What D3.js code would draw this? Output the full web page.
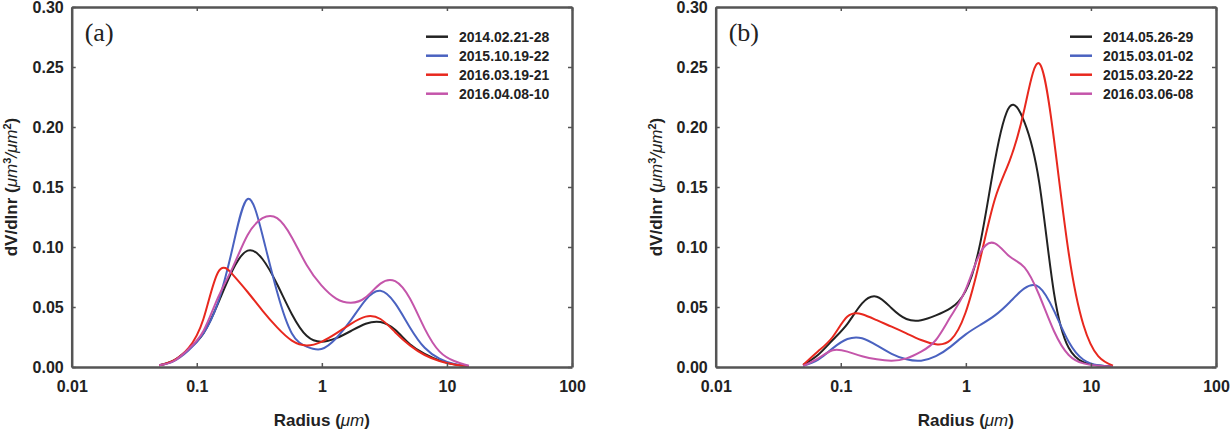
<!DOCTYPE html>
<html>
<head>
<meta charset="utf-8">
<script src="https://cdn.jsdelivr.net/npm/d3@7"></script>
<style>
  body { margin: 0; background: #fff; }
  svg { display: block; }
</style>
</head>
<body>
<script>
// AERONET size bins (radius, um)
const radius = [0.05, 0.0656, 0.0861, 0.113, 0.148, 0.194, 0.255, 0.335, 0.439, 0.576, 0.756,
  0.992, 1.302, 1.708, 2.241, 2.940, 3.857, 5.061, 6.641, 8.713, 11.432, 15.0];

const xTicks = [0.01, 0.1, 1, 10, 100];
const yTicks = [0, 0.05, 0.10, 0.15, 0.20, 0.25, 0.30];

// panel (a)
const datesA = ["2014.02.21-28", "2015.10.19-22", "2016.03.19-21", "2016.04.08-10"];
const a_2014_02 = [0.0014, 0.0055, 0.015, 0.028, 0.053, 0.081, 0.097, 0.090, 0.069, 0.044, 0.026,
  0.021, 0.024, 0.030, 0.036, 0.0375, 0.031, 0.019, 0.011, 0.0055, 0.0022, 0.0007];
const a_2015_10 = [0.0014, 0.005, 0.014, 0.028, 0.054, 0.100, 0.140, 0.110, 0.0625, 0.028, 0.017,
  0.015, 0.024, 0.039, 0.056, 0.0635, 0.053, 0.033, 0.016, 0.007, 0.0025, 0.0008];
const a_2016_03 = [0.0014, 0.0056, 0.016, 0.040, 0.079, 0.077, 0.0625, 0.047, 0.033, 0.022, 0.018,
  0.021, 0.028, 0.036, 0.042, 0.040, 0.029, 0.018, 0.010, 0.005, 0.002, 0.0005];
const a_2016_04 = [0.0014, 0.005, 0.015, 0.030, 0.058, 0.083, 0.110, 0.124, 0.124, 0.108, 0.085,
  0.068, 0.057, 0.0535, 0.058, 0.0695, 0.0715, 0.057, 0.032, 0.013, 0.005, 0.001];

// panel (b)
const datesB = ["2014.05.26-29", "2015.03.01-02", "2015.03.20-22", "2016.03.06-08"];
const b_2014_05 = [0.0017, 0.010, 0.0225, 0.036, 0.053, 0.0586, 0.049, 0.040, 0.039, 0.043, 0.049,
  0.063, 0.103, 0.172, 0.217, 0.204, 0.154, 0.062, 0.016, 0.004, 0.0012, 0.0004];
const b_2015_03a = [0.001, 0.006, 0.0155, 0.0233, 0.024, 0.018, 0.011, 0.0064, 0.0053, 0.009, 0.017,
  0.027, 0.035, 0.043, 0.054, 0.0655, 0.0665, 0.047, 0.021, 0.006, 0.0015, 0.0003];
const b_2015_03b = [0.0017, 0.013, 0.025, 0.042, 0.044, 0.039, 0.0336, 0.028, 0.0225, 0.019, 0.0225,
  0.045, 0.090, 0.140, 0.172, 0.215, 0.253, 0.190, 0.095, 0.035, 0.009, 0.001];
const b_2016_03 = [0.001, 0.007, 0.014, 0.0128, 0.009, 0.0064, 0.0053, 0.0072, 0.0128, 0.0225, 0.042,
  0.064, 0.095, 0.103, 0.092, 0.083, 0.060, 0.030, 0.010, 0.003, 0.001, 0.0003];

const colors = ["#222222", "#4a62c0", "#e8281e", "#c455aa"];
const sans = "'Liberation Sans', Arial, sans-serif";

const W = 1231, H = 433;
const svg = d3.select("body").append("svg").attr("width", W).attr("height", H)
  .style("font-family", sans);

const panels = [
  { tag: "(a)", left: 71.7, right: 572, labelX: 17, dates: datesA, series: [a_2014_02, a_2015_10, a_2016_03, a_2016_04] },
  { tag: "(b)", left: 715.7, right: 1216, labelX: 662, dates: datesB, series: [b_2014_05, b_2015_03a, b_2015_03b, b_2016_03] }
];
const plotTop = 7, plotBottom = 367;

panels.forEach(p => {
  const x = d3.scaleLog().domain([0.01, 100]).range([p.left, p.right]);
  const y = d3.scaleLinear().domain([0, 0.3]).range([plotBottom, plotTop]);
  const g = svg.append("g");

  const line = d3.line()
    .x((d, i) => x(radius[i]))
    .y(d => y(d))
    .curve(d3.curveNatural);

  g.selectAll("path.curve").data(p.series).enter().append("path")
    .attr("class", "curve")
    .attr("d", line)
    .attr("fill", "none")
    .attr("stroke", (d, i) => colors[i])
    .attr("stroke-width", 2);

  const styleAxis = sel => {
    sel.attr("font-family", sans);
    sel.select(".domain").attr("stroke", "#555").attr("stroke-width", 2.5);
    sel.selectAll(".tick line").attr("stroke", "#555").attr("stroke-width", 1.5);
    sel.selectAll(".tick text").attr("fill", "#222").attr("font-size", 16).attr("font-weight", "bold");
  };

  g.append("g").attr("transform", `translate(0,${plotBottom})`)
    .call(d3.axisBottom(x).tickValues(xTicks).tickFormat(d => String(d)).tickSizeInner(-4).tickSizeOuter(0).tickPadding(14))
    .call(styleAxis);
  g.append("g").attr("transform", `translate(0,${plotTop})`)
    .call(d3.axisTop(x).tickValues(xTicks).tickFormat("").tickSizeInner(-4).tickSizeOuter(0))
    .call(styleAxis);
  g.append("g").attr("transform", `translate(${p.left},0)`)
    .call(d3.axisLeft(y).tickValues(yTicks).tickFormat(d3.format(".2f")).tickSizeInner(-4).tickSizeOuter(0).tickPadding(8))
    .call(styleAxis);
  g.append("g").attr("transform", `translate(${p.right},0)`)
    .call(d3.axisRight(y).tickValues(yTicks).tickFormat("").tickSizeInner(-4).tickSizeOuter(0))
    .call(styleAxis);

  // x label
  const xl = g.append("text")
    .attr("x", (p.left + p.right) / 2).attr("y", 426)
    .attr("text-anchor", "middle").attr("font-size", 17).attr("font-weight", "bold").attr("fill", "#222");
  xl.append("tspan").text("Radius (");
  xl.append("tspan").attr("font-style", "italic").attr("font-weight", "normal").text("μm");
  xl.append("tspan").text(")");

  // y label
  const yl = g.append("text")
    .attr("transform", `translate(${p.labelX},${(plotTop + plotBottom) / 2}) rotate(-90)`)
    .attr("text-anchor", "middle").attr("font-size", 17).attr("font-weight", "bold").attr("fill", "#222");
  yl.append("tspan").text("dV/dlnr (");
  yl.append("tspan").attr("font-style", "italic").attr("font-weight", "normal").text("μm");
  yl.append("tspan").attr("font-size", 11).attr("dy", -6).text("3");
  yl.append("tspan").attr("dy", 6).attr("font-style", "italic").attr("font-weight", "normal").text("/μm");
  yl.append("tspan").attr("font-size", 11).attr("dy", -6).text("2");
  yl.append("tspan").attr("dy", 6).text(")");

  // panel tag
  g.append("text").attr("x", p.left + 13).attr("y", 41)
    .style("font-family", "'Liberation Serif', 'Times New Roman', serif")
    .attr("font-size", 26).attr("fill", "#222").text(p.tag);

  // legend
  const lg = g.append("g").attr("transform", `translate(${p.right - 146},0)`);
  p.dates.forEach((d, i) => {
    const yy = 36.7 + i * 19;
    lg.append("line").attr("x1", 0).attr("x2", 22).attr("y1", yy).attr("y2", yy)
      .attr("stroke", colors[i]).attr("stroke-width", 2.5);
    lg.append("text").attr("x", 33).attr("y", yy).attr("dy", "0.36em")
      .attr("font-size", 14).attr("font-weight", "bold").attr("fill", "#222").text(d);
  });
});
</script>
</body>
</html>
